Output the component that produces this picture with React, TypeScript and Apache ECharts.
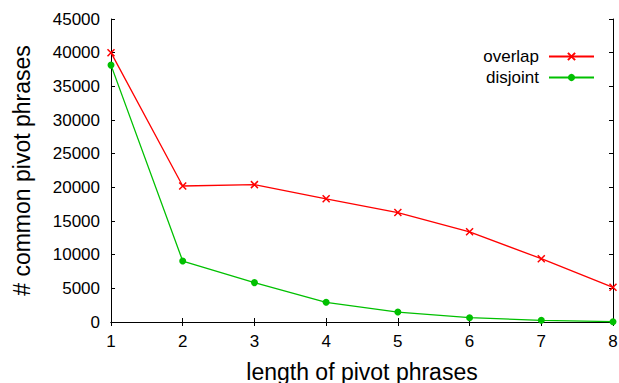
import React, { useEffect, useRef } from "react";
import * as echarts from "echarts";

const lengths = [1, 2, 3, 4, 5, 6, 7, 8];
const overlapValues = [40000, 20200, 20400, 18300, 16250, 13400, 9400, 5150];
const disjointValues = [38150, 9050, 5850, 2930, 1480, 640, 250, 50];
const seriesNames = ["overlap", "disjoint"];
const xAxisTitle = "length of pivot phrases";
const yAxisTitle = "# common pivot phrases";

const FONT = "'Liberation Sans', Arial, sans-serif";

export default function App() {
  const ref = useRef<HTMLDivElement>(null);
  useEffect(() => {
    if (!ref.current) return;
    const chart = echarts.init(ref.current, undefined, { renderer: "svg" });
    const axisLine = { show: true, lineStyle: { color: "#000", width: 1 } };
    const tick = { show: true, inside: true, length: 4, lineStyle: { color: "#000", width: 1 } };
    chart.setOption({
      animation: false,
      backgroundColor: "#fff",
      textStyle: { fontFamily: FONT },
      grid: { left: 111, right: 6, top: 19, bottom: 61, containLabel: false, outerBoundsMode: "none" },
      legend: {
        right: 19,
        top: 43,
        orient: "vertical",
        align: "right",
        itemWidth: 45,
        itemHeight: 9,
        itemGap: 4,
        textStyle: { fontSize: 17, color: "#000", fontFamily: FONT, padding: [0, 5, 0, 0] },
        data: seriesNames,
      },
      xAxis: [
        {
          type: "value",
          min: 1,
          max: 8,
          interval: 1,
          name: xAxisTitle,
          nameLocation: "middle",
          nameGap: 38,
          nameTextStyle: { fontSize: 23, color: "#000", fontFamily: FONT },
          axisLine,
          axisTick: tick,
          axisLabel: { fontSize: 17, color: "#000", margin: 11, fontFamily: FONT },
          splitLine: { show: false },
        },
        {
          type: "value",
          position: "top",
          min: 1,
          max: 8,
          interval: 1,
          axisLine,
          axisTick: tick,
          axisLabel: { show: false },
          splitLine: { show: false },
        },
      ],
      yAxis: [
        {
          type: "value",
          min: 0,
          max: 45000,
          interval: 5000,
          name: yAxisTitle,
          nameLocation: "middle",
          nameGap: 78,
          nameTextStyle: { fontSize: 23, color: "#000", fontFamily: FONT },
          axisLine,
          axisTick: tick,
          axisLabel: {
            fontSize: 17,
            color: "#000",
            margin: 11,
            fontFamily: FONT,
            formatter: (v: number) => String(v),
          },
          splitLine: { show: false },
        },
        {
          type: "value",
          position: "right",
          min: 0,
          max: 45000,
          interval: 5000,
          axisLine,
          axisTick: tick,
          axisLabel: { show: false },
          splitLine: { show: false },
        },
      ],
      series: [
        {
          name: seriesNames[0],
          type: "line",
          data: lengths.map((x, i) => [x, overlapValues[i]]),
          symbol: "path://M0,0L10,10M10,0L0,10",
          symbolSize: 7,
          showSymbol: true,
          lineStyle: { color: "#ff0000", width: 1.3 },
          itemStyle: { color: "#ff0000", borderColor: "#ff0000", borderWidth: 1.5 },
          clip: false,
          z: 3,
        },
        {
          name: seriesNames[1],
          type: "line",
          data: lengths.map((x, i) => [x, disjointValues[i]]),
          symbol: "circle",
          symbolSize: 7,
          lineStyle: { color: "#00c000", width: 1.3 },
          itemStyle: { color: "#00c000", borderColor: "#00c000", borderWidth: 0 },
          clip: false,
          z: 2,
        },
      ],
    });
    return () => chart.dispose();
  }, []);
  return (
    <div
      ref={ref}
      style={{ position: "fixed", left: 0, top: 0, width: 619, height: 383 }}
    />
  );
}
